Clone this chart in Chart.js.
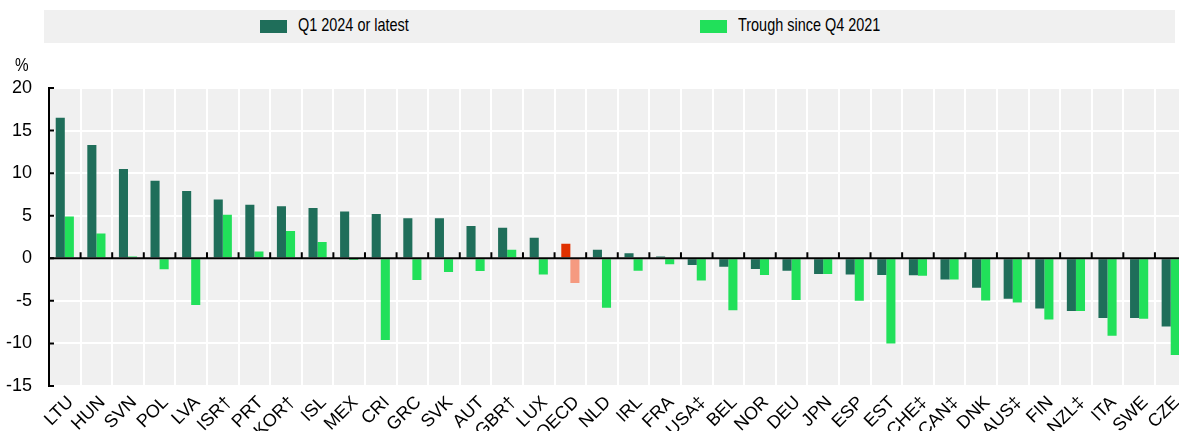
<!DOCTYPE html>
<html>
<head>
<meta charset="utf-8">
<script src="https://cdn.jsdelivr.net/npm/chart.js@4.4.1/dist/chart.umd.min.js"></script>
<style>
body{margin:0;background:#fff;font-family:"Liberation Sans",Arial,sans-serif;}
#wrap{position:relative;width:1179px;height:431px;overflow:hidden;}
#chart{position:absolute;left:0;top:0;}
#legend{position:absolute;left:44px;top:10px;width:1131px;height:33px;background:#f0f0f0;}
.sw{position:absolute;top:10px;width:27px;height:13px;}
.lt{position:absolute;top:4px;font-size:19px;color:#000;white-space:nowrap;transform:scaleX(0.76);transform-origin:left center;}
#pct{position:absolute;left:15px;top:55px;font-size:18px;transform:scaleX(0.85);transform-origin:left center;}
</style>
</head>
<body>
<div id="wrap">
<canvas id="chart" width="1192" height="431"></canvas>
<div id="legend">
<div class="sw" style="left:216px;background:#1f6e5a"></div>
<div class="lt" style="left:254px">Q1 2024 or latest</div>
<div class="sw" style="left:656px;background:#21e05a"></div>
<div class="lt" style="left:694px">Trough since Q4 2021</div>
</div>
<div id="pct">%</div>
</div>
<script>
const countries = ["LTU","HUN","SVN","POL","LVA","ISR†","PRT","KOR†","ISL","MEX","CRI","GRC","SVK","AUT","GBR†","LUX","OECD","NLD","IRL","FRA","USA‡","BEL","NOR","DEU","JPN","ESP","EST","CHE‡","CAN‡","DNK","AUS‡","FIN","NZL‡","ITA","SWE","CZE"];

const latest = [16.5,13.3,10.5,9.1,7.9,6.9,6.3,6.1,5.9,5.5,5.2,4.7,4.7,3.8,3.6,2.4,1.7,1.0,0.6,0.2,-0.8,-1.0,-1.25,-1.45,-1.85,-1.9,-1.95,-2.0,-2.5,-3.45,-4.75,-5.9,-6.2,-7.0,-7.0,-8.0];

const trough = [4.9,2.9,0.2,-1.3,-5.5,5.1,0.8,3.2,1.9,-0.2,-9.6,-2.55,-1.6,-1.5,1.0,-1.9,-2.9,-5.8,-1.45,-0.7,-2.6,-6.1,-1.95,-4.9,-1.85,-5.0,-10.0,-2.05,-2.5,-4.95,-5.2,-7.2,-6.2,-9.1,-7.1,-11.35];

const yTicks = [-15,-10,-5,0,5,10,15,20];

const dark = "#1f6e5a";
const light = "#21e05a";

const latestColors = countries.map(c => c === "OECD" ? "#e03000" : dark);
const troughColors = countries.map(c => c === "OECD" ? "#f59a80" : light);

const font = {family:'"Liberation Sans", Arial, sans-serif', size:18};

const decor = {
id:"decor",
beforeDraw(chart){
const a = chart.chartArea;
const ctx = chart.ctx;
ctx.save();
ctx.fillStyle = "#f0f0f0";
ctx.fillRect(a.left, a.top, a.right - a.left, a.bottom - a.top);
ctx.restore();
},
afterDatasetsDraw(chart){
const a = chart.chartArea;
const ctx = chart.ctx;
const x = chart.scales.x;
const y = chart.scales.y;
const y0 = y.getPixelForValue(0);
ctx.save();
ctx.strokeStyle = "#000";
ctx.lineWidth = 2;
ctx.beginPath();
ctx.moveTo(a.left, y0);
ctx.lineTo(a.right, y0);
ctx.stroke();
const w = x.getPixelForValue(1) - x.getPixelForValue(0);
ctx.beginPath();
for(let i = 0; i <= countries.length; i++){
const px = x.getPixelForValue(i) - w/2;
ctx.moveTo(px, y0);
ctx.lineTo(px, y0 - 6);
}
yTicks.forEach(v => {
const py = y.getPixelForValue(v);
ctx.moveTo(a.left, py);
ctx.lineTo(a.left + 5, py);
});
ctx.stroke();
ctx.restore();
}
};

new Chart(document.getElementById("chart"), {
type:"bar",
data:{
labels:countries,
datasets:[
{label:"Q1 2024 or latest", data:latest, backgroundColor:latestColors},
{label:"Trough since Q4 2021", data:trough, backgroundColor:troughColors}
]
},
options:{
responsive:false,
animation:false,
devicePixelRatio:1,
categoryPercentage:0.575,
barPercentage:1.0,
layout:{padding:{top:88,right:0,left:0,bottom:0}},
plugins:{legend:{display:false}, tooltip:{enabled:false}},
scales:{
x:{
grid:{color:"#ffffff", lineWidth:2, offset:true, drawTicks:false},
border:{display:false},
ticks:{color:"#000", font:font, minRotation:45, maxRotation:45, padding:6, labelOffset:6, autoSkip:false},
afterFit(s){ s.height = 45; }
},
y:{
min:-15, max:20,
afterBuildTicks(s){ s.ticks = yTicks.map(v => ({value:v})); },
grid:{color:"#ffffff", lineWidth:2, drawTicks:false},
border:{display:true, color:"#000", width:2},
ticks:{color:"#000", font:font, padding:17},
afterFit(s){ s.width = 49; }
}
}
},
plugins:[decor]
});
</script>
</body>
</html>
